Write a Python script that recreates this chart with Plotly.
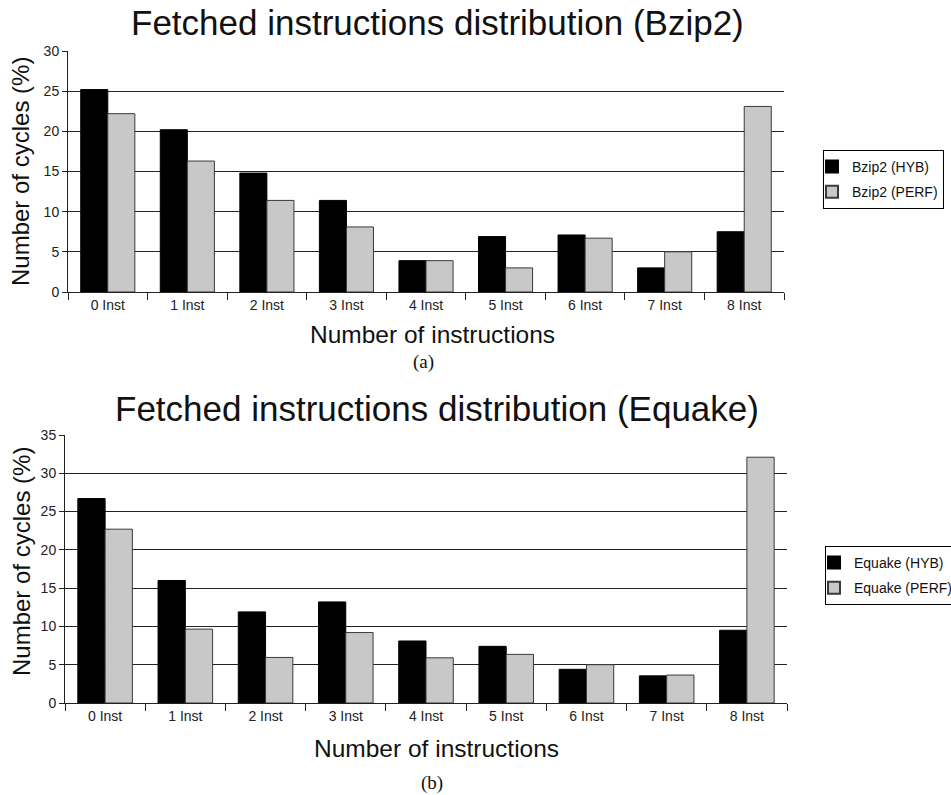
import plotly.graph_objects as go

categories = ["0 Inst", "1 Inst", "2 Inst", "3 Inst", "4 Inst", "5 Inst", "6 Inst", "7 Inst", "8 Inst"]
bzip2_hyb = [25.2, 20.2, 14.8, 11.4, 3.9, 6.9, 7.1, 3.0, 7.5]
bzip2_perf = [22.2, 16.3, 11.4, 8.1, 3.9, 3.0, 6.7, 5.0, 23.1]
equake_hyb = [26.7, 16.0, 11.9, 13.2, 8.1, 7.4, 4.4, 3.55, 9.5]
equake_perf = [22.7, 9.65, 5.95, 9.2, 5.9, 6.35, 5.0, 3.65, 32.1]

W, H = 951, 795
FONT = "Liberation Sans"

def px(x):
    return x / W

def py(y):
    return 1 - y / H

fig = go.Figure()

fig.add_trace(go.Bar(x=categories, y=bzip2_hyb, name="Bzip2 (HYB)", xaxis="x", yaxis="y",
                     marker=dict(color="#000000", line=dict(color="#000000", width=1)),
                     legend="legend", legendgroup="a1"))
fig.add_trace(go.Bar(x=categories, y=bzip2_perf, name="Bzip2 (PERF)", xaxis="x", yaxis="y",
                     marker=dict(color="#c8c8c8", line=dict(color="#3a3a3a", width=1)),
                     legend="legend", legendgroup="a2"))
fig.add_trace(go.Bar(x=categories, y=equake_hyb, name="Equake (HYB)", xaxis="x2", yaxis="y2",
                     marker=dict(color="#000000", line=dict(color="#000000", width=1)),
                     legend="legend2", legendgroup="b1"))
fig.add_trace(go.Bar(x=categories, y=equake_perf, name="Equake (PERF)", xaxis="x2", yaxis="y2",
                     marker=dict(color="#c8c8c8", line=dict(color="#3a3a3a", width=1)),
                     legend="legend2", legendgroup="b2"))

xcommon = dict(type="category", tickson="boundaries", ticks="outside", ticklen=7, tickcolor="#222",
               showline=True, linecolor="#222", linewidth=1, showgrid=False, zeroline=False,
               tickfont=dict(family=FONT, size=14, color="#222"), fixedrange=True)
ycommon = dict(ticks="outside", ticklen=5, tickcolor="#222", showline=True, linecolor="#222", linewidth=1,
               showgrid=True, gridcolor="#222", gridwidth=1, zeroline=False,
               tickfont=dict(family=FONT, size=14, color="#222"))

legcommon = dict(bordercolor="#000", borderwidth=1, bgcolor="white",
                 font=dict(family=FONT, size=14, color="#111"), xanchor="left", yanchor="top",
                 itemsizing="constant", tracegroupgap=4, indentation=-12)

fig.update_layout(
    width=W, height=H,
    margin=dict(l=0, r=0, t=0, b=0, autoexpand=False),
    paper_bgcolor="white", plot_bgcolor="white",
    barmode="group", bargap=0.32, bargroupgap=0,
    showlegend=True,
    xaxis=dict(domain=[px(68), px(784)], anchor="y", **xcommon),
    yaxis=dict(domain=[py(292), py(51)], anchor="x", range=[0, 30], dtick=5, **ycommon),
    xaxis2=dict(domain=[px(65), px(787)], anchor="y2", **xcommon),
    yaxis2=dict(domain=[py(703), py(435)], anchor="x2", range=[0, 35], dtick=5, **ycommon),
    legend=dict(x=px(823), y=py(150), **legcommon),
    legend2=dict(x=px(825), y=py(546), **legcommon),
)

annotations = [
    dict(text="Fetched instructions distribution (Bzip2)", x=px(437), y=py(23), size=35),
    dict(text="Fetched instructions distribution (Equake)", x=px(437), y=py(408), size=35),
    dict(text="Number of instructions", x=px(432), y=py(334), size=24.5),
    dict(text="Number of instructions", x=px(436), y=py(748), size=24.5),
]
for a in annotations:
    fig.add_annotation(text=a["text"], x=a["x"], y=a["y"], xref="paper", yref="paper",
                       showarrow=False, xanchor="center", yanchor="middle",
                       font=dict(family=FONT, size=a["size"], color="#111"))

fig.add_annotation(text="Number of cycles (%)", x=px(21), y=py(172), xref="paper", yref="paper",
                   showarrow=False, textangle=-90, xanchor="center", yanchor="middle",
                   font=dict(family=FONT, size=24, color="#111"))
fig.add_annotation(text="Number of cycles (%)", x=px(21), y=py(562), xref="paper", yref="paper",
                   showarrow=False, textangle=-90, xanchor="center", yanchor="middle",
                   font=dict(family=FONT, size=24, color="#111"))
fig.add_annotation(text="(a)", x=px(423), y=py(362), xref="paper", yref="paper",
                   showarrow=False, xanchor="center", yanchor="middle",
                   font=dict(family="Liberation Serif", size=19, color="#111"))
fig.add_annotation(text="(b)", x=px(432), y=py(783), xref="paper", yref="paper",
                   showarrow=False, xanchor="center", yanchor="middle",
                   font=dict(family="Liberation Serif", size=19, color="#111"))

fig.write_html("out.html")
